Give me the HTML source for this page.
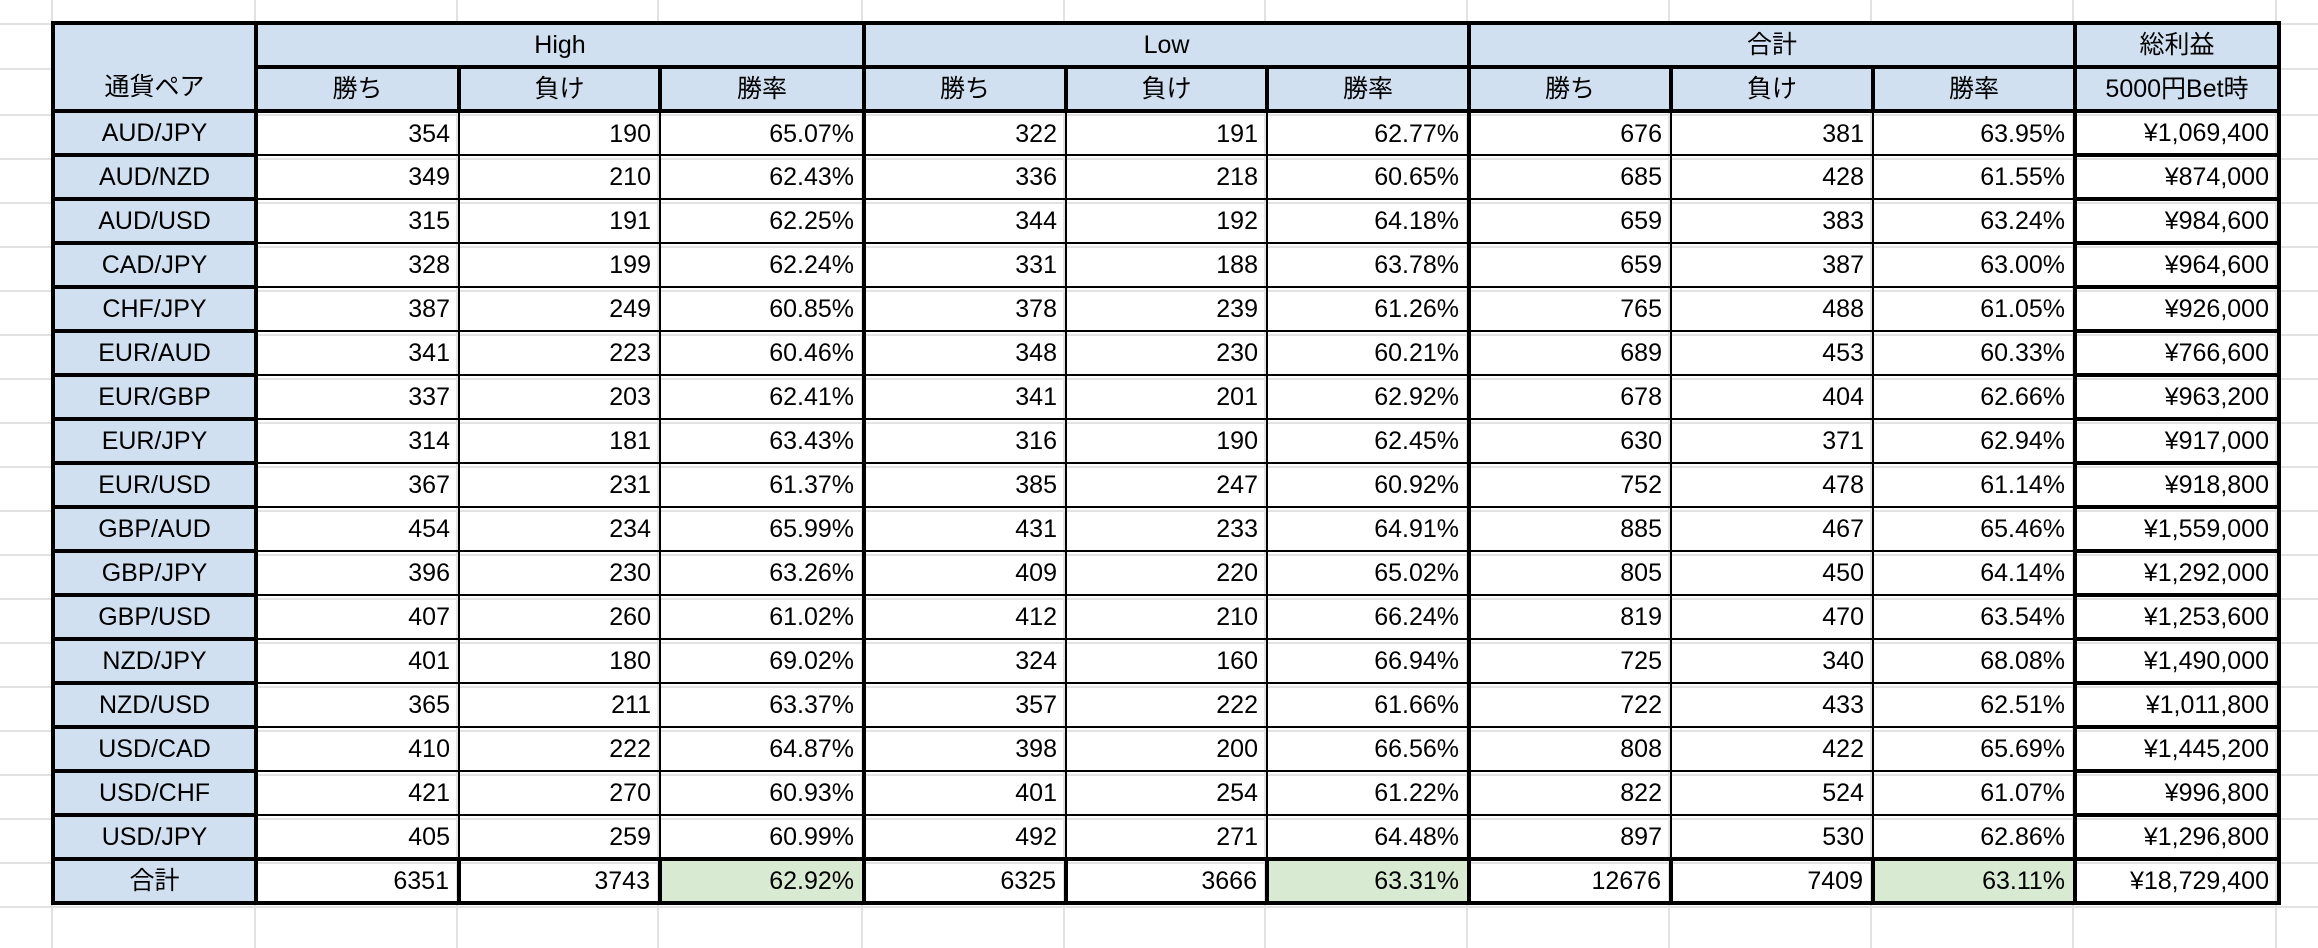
<!DOCTYPE html>
<html><head><meta charset="utf-8">
<style>
html,body{margin:0;padding:0;background:#fff;width:2318px;height:948px;overflow:hidden;position:relative}
.grid{position:absolute;background:#e2e2e2}
table{position:absolute;left:51px;top:21px;border-collapse:collapse;table-layout:fixed;font-family:"Liberation Sans","Noto Sans CJK JP",sans-serif;font-size:25px;color:#000}
td{border:2px solid #000;height:40px;padding:0 8px 0 0;text-align:right;white-space:nowrap;overflow:hidden;line-height:40px}
.h td{background:#d0e0f0;text-align:center;padding:0;border-width:4px}
td.c{background:#d0e0f0;text-align:center;padding:0;border:4px solid #000}
td.f{border:4px solid #000}
td.g{border-left:4px solid #000}
tr.t td{border-width:4px;height:38px}
td.gr{background:#d9ead3}
</style></head><body>
<div class="grid" style="left:0;top:23px;width:51px;height:2px"></div>
<div class="grid" style="left:0;top:68px;width:51px;height:2px"></div>
<div class="grid" style="left:2276px;top:23px;width:42px;height:2px"></div>
<div class="grid" style="left:2276px;top:68px;width:42px;height:2px"></div>
<div class="grid" style="left:0;top:114px;width:2318px;height:2px"></div>
<div class="grid" style="left:0;top:158px;width:2318px;height:2px"></div>
<div class="grid" style="left:0;top:202px;width:2318px;height:2px"></div>
<div class="grid" style="left:0;top:246px;width:2318px;height:2px"></div>
<div class="grid" style="left:0;top:290px;width:2318px;height:2px"></div>
<div class="grid" style="left:0;top:334px;width:2318px;height:2px"></div>
<div class="grid" style="left:0;top:378px;width:2318px;height:2px"></div>
<div class="grid" style="left:0;top:422px;width:2318px;height:2px"></div>
<div class="grid" style="left:0;top:466px;width:2318px;height:2px"></div>
<div class="grid" style="left:0;top:510px;width:2318px;height:2px"></div>
<div class="grid" style="left:0;top:554px;width:2318px;height:2px"></div>
<div class="grid" style="left:0;top:598px;width:2318px;height:2px"></div>
<div class="grid" style="left:0;top:642px;width:2318px;height:2px"></div>
<div class="grid" style="left:0;top:686px;width:2318px;height:2px"></div>
<div class="grid" style="left:0;top:730px;width:2318px;height:2px"></div>
<div class="grid" style="left:0;top:774px;width:2318px;height:2px"></div>
<div class="grid" style="left:0;top:818px;width:2318px;height:2px"></div>
<div class="grid" style="left:0;top:862px;width:2318px;height:2px"></div>
<div class="grid" style="left:0;top:906px;width:2318px;height:2px"></div>
<div class="grid" style="left:51px;top:0;width:2px;height:948px"></div>
<div class="grid" style="left:254px;top:0;width:2px;height:948px"></div>
<div class="grid" style="left:456px;top:0;width:2px;height:948px"></div>
<div class="grid" style="left:657px;top:0;width:2px;height:948px"></div>
<div class="grid" style="left:861px;top:0;width:2px;height:948px"></div>
<div class="grid" style="left:1063px;top:0;width:2px;height:948px"></div>
<div class="grid" style="left:1264px;top:0;width:2px;height:948px"></div>
<div class="grid" style="left:1466px;top:0;width:2px;height:948px"></div>
<div class="grid" style="left:1668px;top:0;width:2px;height:948px"></div>
<div class="grid" style="left:1870px;top:0;width:2px;height:948px"></div>
<div class="grid" style="left:2072px;top:0;width:2px;height:948px"></div>
<div class="grid" style="left:2275px;top:0;width:2px;height:948px"></div>
<table>
<colgroup><col style="width:203px"><col style="width:203px"><col style="width:201px"><col style="width:204px"><col style="width:202px"><col style="width:201px"><col style="width:202px"><col style="width:202px"><col style="width:202px"><col style="width:202px"><col style="width:204px"></colgroup>
<tr class="h"><td rowspan="2" style="vertical-align:bottom;line-height:44px">通貨ペア</td><td colspan="3">High</td><td colspan="3">Low</td><td colspan="3">合計</td><td>総利益</td></tr>
<tr class="h"><td>勝ち</td><td>負け</td><td>勝率</td><td>勝ち</td><td>負け</td><td>勝率</td><td>勝ち</td><td>負け</td><td>勝率</td><td>5000円Bet時</td></tr>
<tr><td class="c">AUD/JPY</td><td>354</td><td>190</td><td>65.07%</td><td class="g">322</td><td>191</td><td>62.77%</td><td class="g">676</td><td>381</td><td>63.95%</td><td class="f">¥1,069,400</td></tr>
<tr><td class="c">AUD/NZD</td><td>349</td><td>210</td><td>62.43%</td><td class="g">336</td><td>218</td><td>60.65%</td><td class="g">685</td><td>428</td><td>61.55%</td><td class="f">¥874,000</td></tr>
<tr><td class="c">AUD/USD</td><td>315</td><td>191</td><td>62.25%</td><td class="g">344</td><td>192</td><td>64.18%</td><td class="g">659</td><td>383</td><td>63.24%</td><td class="f">¥984,600</td></tr>
<tr><td class="c">CAD/JPY</td><td>328</td><td>199</td><td>62.24%</td><td class="g">331</td><td>188</td><td>63.78%</td><td class="g">659</td><td>387</td><td>63.00%</td><td class="f">¥964,600</td></tr>
<tr><td class="c">CHF/JPY</td><td>387</td><td>249</td><td>60.85%</td><td class="g">378</td><td>239</td><td>61.26%</td><td class="g">765</td><td>488</td><td>61.05%</td><td class="f">¥926,000</td></tr>
<tr><td class="c">EUR/AUD</td><td>341</td><td>223</td><td>60.46%</td><td class="g">348</td><td>230</td><td>60.21%</td><td class="g">689</td><td>453</td><td>60.33%</td><td class="f">¥766,600</td></tr>
<tr><td class="c">EUR/GBP</td><td>337</td><td>203</td><td>62.41%</td><td class="g">341</td><td>201</td><td>62.92%</td><td class="g">678</td><td>404</td><td>62.66%</td><td class="f">¥963,200</td></tr>
<tr><td class="c">EUR/JPY</td><td>314</td><td>181</td><td>63.43%</td><td class="g">316</td><td>190</td><td>62.45%</td><td class="g">630</td><td>371</td><td>62.94%</td><td class="f">¥917,000</td></tr>
<tr><td class="c">EUR/USD</td><td>367</td><td>231</td><td>61.37%</td><td class="g">385</td><td>247</td><td>60.92%</td><td class="g">752</td><td>478</td><td>61.14%</td><td class="f">¥918,800</td></tr>
<tr><td class="c">GBP/AUD</td><td>454</td><td>234</td><td>65.99%</td><td class="g">431</td><td>233</td><td>64.91%</td><td class="g">885</td><td>467</td><td>65.46%</td><td class="f">¥1,559,000</td></tr>
<tr><td class="c">GBP/JPY</td><td>396</td><td>230</td><td>63.26%</td><td class="g">409</td><td>220</td><td>65.02%</td><td class="g">805</td><td>450</td><td>64.14%</td><td class="f">¥1,292,000</td></tr>
<tr><td class="c">GBP/USD</td><td>407</td><td>260</td><td>61.02%</td><td class="g">412</td><td>210</td><td>66.24%</td><td class="g">819</td><td>470</td><td>63.54%</td><td class="f">¥1,253,600</td></tr>
<tr><td class="c">NZD/JPY</td><td>401</td><td>180</td><td>69.02%</td><td class="g">324</td><td>160</td><td>66.94%</td><td class="g">725</td><td>340</td><td>68.08%</td><td class="f">¥1,490,000</td></tr>
<tr><td class="c">NZD/USD</td><td>365</td><td>211</td><td>63.37%</td><td class="g">357</td><td>222</td><td>61.66%</td><td class="g">722</td><td>433</td><td>62.51%</td><td class="f">¥1,011,800</td></tr>
<tr><td class="c">USD/CAD</td><td>410</td><td>222</td><td>64.87%</td><td class="g">398</td><td>200</td><td>66.56%</td><td class="g">808</td><td>422</td><td>65.69%</td><td class="f">¥1,445,200</td></tr>
<tr><td class="c">USD/CHF</td><td>421</td><td>270</td><td>60.93%</td><td class="g">401</td><td>254</td><td>61.22%</td><td class="g">822</td><td>524</td><td>61.07%</td><td class="f">¥996,800</td></tr>
<tr><td class="c">USD/JPY</td><td>405</td><td>259</td><td>60.99%</td><td class="g">492</td><td>271</td><td>64.48%</td><td class="g">897</td><td>530</td><td>62.86%</td><td class="f">¥1,296,800</td></tr>
<tr class="t"><td class="c">合計</td><td>6351</td><td>3743</td><td class="gr">62.92%</td><td>6325</td><td>3666</td><td class="gr">63.31%</td><td>12676</td><td>7409</td><td class="gr">63.11%</td><td class="f">¥18,729,400</td></tr>
</table>
</body></html>
